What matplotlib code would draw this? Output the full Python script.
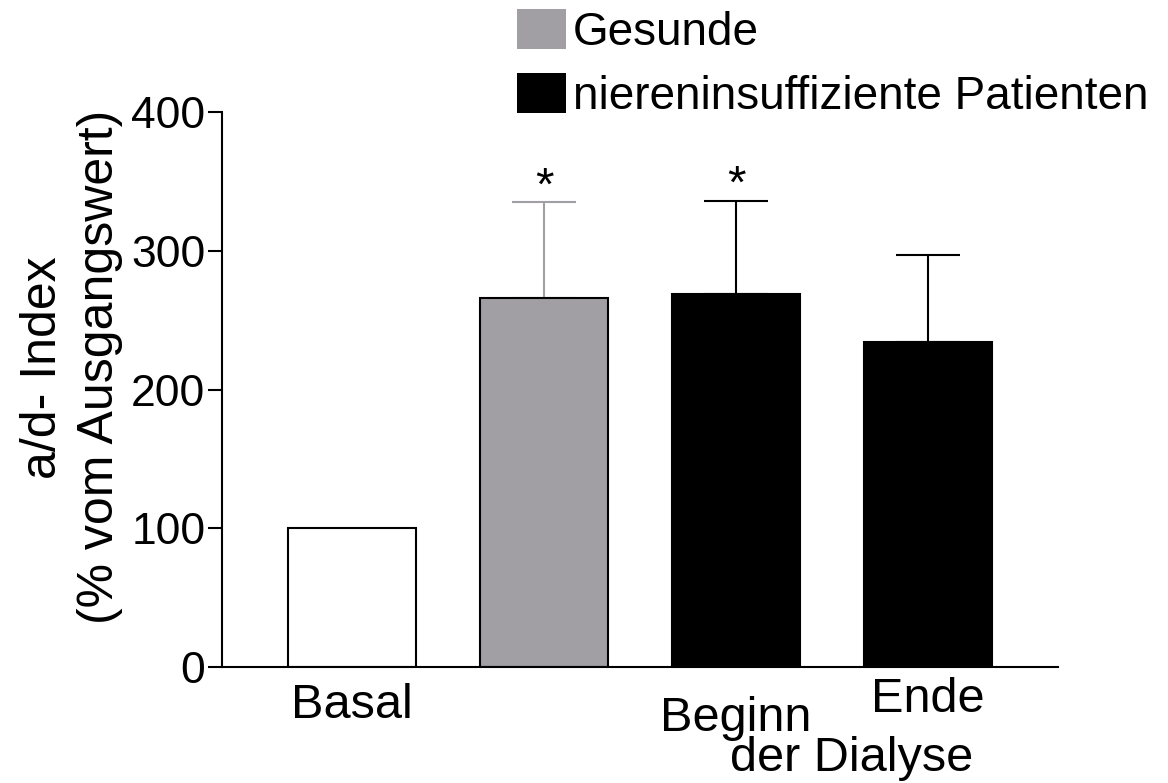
import matplotlib.pyplot as plt
from matplotlib.patches import Patch

plt.rcParams['font.family'] = ['Liberation Sans', 'DejaVu Sans']

# values in % of baseline
groups = ['Basal', 'Gesunde', 'Beginn', 'Ende']
means = [100, 266, 269, 234]
errors = [0, 69, 67, 63]
stars = ['', '*', '*', '']

grey = '#a19fa4'
face_colors = ['white', grey, 'black', 'black']
err_colors = [None, grey, 'black', 'black']

fig = plt.figure(figsize=(11.68, 7.83), dpi=100)
ax = fig.add_axes([0.19, 0.148, 0.716, 0.709])

x = list(range(len(groups)))
ax.bar(x, means, width=0.667, color=face_colors, edgecolor='black', linewidth=1.5, zorder=2)

for i in x:
    if errors[i] > 0:
        ax.errorbar(i, means[i], yerr=[[0], [errors[i]]], fmt='none', ecolor=err_colors[i],
                    elinewidth=1.5, capsize=23, capthick=1.5, zorder=1)
    if stars[i]:
        ax.text(i, means[i] + errors[i] + 2, stars[i], ha='center', va='baseline', fontsize=34)

ax.set_xlim(-0.677, 3.677)
ax.set_ylim(0, 400)
ax.set_yticks([0, 100, 200, 300, 400])
ax.set_xticks([])
ax.tick_params(axis='y', labelsize=32, width=1.5, length=10, pad=2)
for side in ['top', 'right']:
    ax.spines[side].set_visible(False)
for side in ['left', 'bottom']:
    ax.spines[side].set_linewidth(1.5)

ax.set_ylabel('a/d- Index\n(% vom Ausgangswert)', fontsize=36, linespacing=1.3)
ax.yaxis.set_label_coords(-0.118, 0.54)

# category labels below the axis
lab = dict(fontsize=35, ha='center', va='center', transform=ax.get_xaxis_transform())
ax.text(0, -0.07, 'Basal', **lab)
ax.text(2, -0.092, 'Beginn', **lab)
ax.text(3, -0.058, 'Ende', **lab)
ax.text(2.6, -0.165, 'der Dialyse', **lab)

handles = [Patch(facecolor=grey, edgecolor='none'), Patch(facecolor='black', edgecolor='none')]
fig.legend(handles, ['Gesunde', 'niereninsuffiziente Patienten'], loc='upper left',
           bbox_to_anchor=(0.427, 1.012), frameon=False, fontsize=33,
           handlelength=1.07, handleheight=0.97, handletextpad=0.15, labelspacing=0.4,
           borderaxespad=0)

fig.savefig('out.png', dpi=100)
